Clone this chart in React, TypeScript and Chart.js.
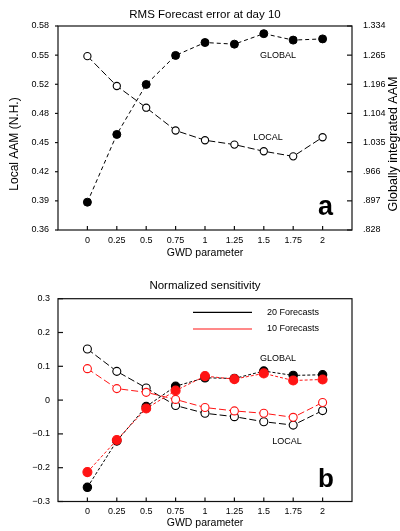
import React, { useEffect, useRef } from "react";
import { Chart, registerables } from "chart.js";

Chart.register(...registerables);

const FONT = "'Liberation Sans', Arial, Helvetica, sans-serif";

// ---- shared x axis ----
const gwd = [0, 0.25, 0.5, 0.75, 1, 1.25, 1.5, 1.75, 2];
const gwdTickLabels = ["0", "0.25", "0.5", "0.75", "1", "1.25", "1.5", "1.75", "2"];

// ---- panel a: RMS forecast error at day 10 ----
const localAAM = [0.5475, 0.5153, 0.4919, 0.4673, 0.4568, 0.4521, 0.4449, 0.4394, 0.46];
const globalAAM = [0.897, 1.065, 1.189, 1.261, 1.293, 1.289, 1.315, 1.299, 1.302];
const leftTickLabels = ["0.36", "0.39", "0.42", "0.45", "0.48", "0.52", "0.55", "0.58"];
const rightTickLabels = [".828", ".897", ".966", "1.035", "1.104", "1.196", "1.265", "1.334"];

// ---- panel b: normalized sensitivity ----
const local20 = [0.151, 0.085, 0.036, -0.016, -0.039, -0.049, -0.064, -0.074, -0.031];
const local10 = [0.093, 0.034, 0.023, 0.002, -0.022, -0.032, -0.039, -0.051, -0.007];
const global20 = [-0.258, -0.121, -0.019, 0.041, 0.066, 0.064, 0.086, 0.073, 0.075];
const global10 = [-0.213, -0.118, -0.025, 0.028, 0.071, 0.062, 0.079, 0.058, 0.061];
const sensTickValues = [-0.3, -0.2, -0.1, 0, 0.1, 0.2, 0.3];
const sensTickLabels = ["\u22120.3", "\u22120.2", "\u22120.1", "0", "0.1", "0.2", "0.3"];
const legendNames = ["20 Forecasts", "10 Forecasts"];

const RED = "rgb(255,20,20)";

const pts = (ys: number[]) => gwd.map((x, i) => ({ x, y: ys[i] }));

type TickSpec = { scaleId: string; side: "left" | "right" | "bottom"; len: number; inward: boolean };
type Label = { text: string; x: number; y: number; yScale: string; size: number };
type Decor = {
  ticks: TickSpec[];
  labels: Label[];
  panel: { text: string; dxRight: number; dyBottom: number; size: number };
  yTitles?: { text: string; x: number; y: number; size: number }[];
  legend?: { color: string; text: string; dy: number }[];
};

function decorPlugin(d: Decor) {
  return {
    id: "decor",
    afterDraw(chart: any) {
      const { ctx, chartArea: a, scales } = chart;
      ctx.save();
      ctx.strokeStyle = "#111";
      ctx.lineWidth = 1.2;
      ctx.setLineDash([]);
      ctx.strokeRect(a.left, a.top, a.right - a.left, a.bottom - a.top);
      for (const t of d.ticks) {
        const s = scales[t.scaleId];
        for (const tk of s.ticks) {
          const p = s.getPixelForValue(tk.value);
          ctx.beginPath();
          if (t.side === "bottom") {
            ctx.moveTo(p, a.bottom);
            ctx.lineTo(p, a.bottom + (t.inward ? -t.len : t.len));
          } else if (t.side === "left") {
            ctx.moveTo(a.left, p);
            ctx.lineTo(a.left + (t.inward ? t.len : -t.len), p);
          } else {
            ctx.moveTo(a.right, p);
            ctx.lineTo(a.right + (t.inward ? -t.len : t.len), p);
          }
          ctx.stroke();
        }
      }
      ctx.fillStyle = "#000";
      ctx.textAlign = "center";
      ctx.textBaseline = "middle";
      for (const l of d.labels) {
        ctx.font = `${l.size}px ${FONT}`;
        ctx.fillText(l.text, scales.x.getPixelForValue(l.x), scales[l.yScale].getPixelForValue(l.y));
      }
      if (d.legend) {
        ctx.font = `9px ${FONT}`;
        ctx.textAlign = "left";
        for (const e of d.legend) {
          const y = a.top + e.dy;
          ctx.strokeStyle = e.color;
          ctx.lineWidth = 1.2;
          ctx.beginPath();
          ctx.moveTo(a.left + 135, y);
          ctx.lineTo(a.left + 194, y);
          ctx.stroke();
          ctx.fillStyle = "#000";
          ctx.fillText(e.text, a.left + 209, y);
        }
      }
      if (d.yTitles) {
        for (const t of d.yTitles) {
          ctx.save();
          ctx.translate(t.x, t.y);
          ctx.rotate(-Math.PI / 2);
          ctx.font = `${t.size}px ${FONT}`;
          ctx.textAlign = "center";
          ctx.textBaseline = "middle";
          ctx.fillStyle = "#000";
          ctx.fillText(t.text, 0, 0);
          ctx.restore();
        }
      }
      ctx.font = `bold ${d.panel.size}px ${FONT}`;
      ctx.textAlign = "right";
      ctx.textBaseline = "alphabetic";
      ctx.fillStyle = "#000";
      ctx.fillText(d.panel.text, a.right - d.panel.dxRight, a.bottom - d.panel.dyBottom);
      ctx.restore();
    },
  };
}

const xScale = (height: number, tickPad: number, titlePadBottom: number) => ({
  type: "linear",
  min: -0.25,
  max: 2.25,
  grid: { display: false, drawTicks: false },
  border: { display: false },
  afterBuildTicks: (s: any) => {
    s.ticks = gwd.map((v) => ({ value: v }));
  },
  afterFit: (s: any) => {
    s.height = height;
  },
  ticks: {
    autoSkip: false,
    maxRotation: 0,
    padding: tickPad,
    color: "#000",
    font: { family: FONT, size: 9 },
    callback: (_v: any, i: number) => gwdTickLabels[i],
  },
  title: {
    display: true,
    text: "GWD parameter",
    color: "#000",
    font: { family: FONT, size: 10.5 },
    padding: { top: 0, bottom: titlePadBottom },
  },
});

function useChart(ref: React.RefObject<HTMLCanvasElement | null>, make: (c: HTMLCanvasElement) => Chart) {
  useEffect(() => {
    if (!ref.current) return;
    const chart = make(ref.current);
    return () => chart.destroy();
  }, []);
}

function PanelA() {
  const ref = useRef<HTMLCanvasElement>(null);
  useChart(ref, (c) =>
    new Chart(c, {
      type: "line",
      data: {
        datasets: [
          {
            label: "LOCAL",
            data: pts(localAAM),
            yAxisID: "y",
            borderColor: "#000",
            borderWidth: 1,
            borderDash: [7, 3],
            pointRadius: 3.6,
            pointBorderWidth: 1.1,
            pointBackgroundColor: "#fff",
            pointBorderColor: "#000",
          },
          {
            label: "GLOBAL",
            data: pts(globalAAM),
            yAxisID: "y2",
            borderColor: "#000",
            borderWidth: 1,
            borderDash: [4, 3],
            pointRadius: 4,
            pointBorderWidth: 1,
            pointBackgroundColor: "#000",
            pointBorderColor: "#000",
          },
        ],
      },
      options: {
        responsive: false,
        animation: false,
        layout: { padding: 0 },
        plugins: {
          legend: { display: false },
          tooltip: { enabled: false },
          title: {
            display: true,
            fullSize: false,
            text: "RMS Forecast error at day 10",
            color: "#000",
            font: { family: FONT, size: 11.5, weight: "normal" },
            padding: { top: 8.1, bottom: 4.1 },
          },
        },
        scales: {
          x: xScale(40, 5, 11),
          y: {
            type: "linear",
            position: "left",
            min: 0.36,
            max: 0.58,
            grid: { display: false, drawTicks: false },
            border: { display: false },
            afterBuildTicks: (s: any) => {
              s.ticks = leftTickLabels.map((_, i) => ({ value: 0.36 + (i * 0.22) / (leftTickLabels.length - 1) }));
            },
            afterFit: (s: any) => {
              s.width = 58;
            },
            ticks: {
              padding: 9,
              color: "#000",
              font: { family: FONT, size: 9 },
              callback: (_v: any, i: number) => leftTickLabels[i],
            },
          },
          y2: {
            type: "linear",
            position: "right",
            min: 0.828,
            max: 1.334,
            grid: { display: false, drawTicks: false },
            border: { display: false },
            afterBuildTicks: (s: any) => {
              s.ticks = rightTickLabels.map((_, i) => ({
                value: 0.828 + (i * (1.334 - 0.828)) / (rightTickLabels.length - 1),
              }));
            },
            afterFit: (s: any) => {
              s.width = 48;
            },
            ticks: {
              padding: 11,
              color: "#000",
              font: { family: FONT, size: 9 },
              callback: (_v: any, i: number) => rightTickLabels[i],
            },
          },
        },
      } as any,
      plugins: [
        decorPlugin({
          ticks: [
            { scaleId: "x", side: "bottom", len: 4, inward: true },
            { scaleId: "y", side: "left", len: 3, inward: false },
            { scaleId: "y2", side: "right", len: 5, inward: true },
          ],
          labels: [
            { text: "GLOBAL", x: 1.621, y: 0.5486, yScale: "y", size: 9 },
            { text: "LOCAL", x: 1.536, y: 0.4597, yScale: "y", size: 9 },
          ],
          panel: { text: "a", dxRight: 19, dyBottom: 15, size: 27 },
          yTitles: [
            { text: "Local AAM (N.H.)", x: 15, y: 144, size: 12 },
            { text: "Globally integrated AAM", x: 394, y: 144, size: 12.5 },
          ],
        }) as any,
      ],
    })
  );
  return <canvas ref={ref} width={400} height={270} style={{ display: "block" }} />;
}

function PanelB() {
  const ref = useRef<HTMLCanvasElement>(null);
  const ds = (data: number[], color: string, open: boolean, dash: number[], r: number) => ({
    data: pts(data),
    borderColor: color,
    borderWidth: 1,
    borderDash: dash,
    pointRadius: r,
    pointBorderWidth: 1.1,
    pointBackgroundColor: open ? "#fff" : color,
    pointBorderColor: color,
  });
  useChart(ref, (c) =>
    new Chart(c, {
      type: "line",
      data: {
        datasets: [
          { label: "LOCAL 10", ...ds(local10, RED, true, [7, 3], 4) },
          { label: "GLOBAL 10", ...ds(global10, RED, false, [3, 2], 4.5) },
          { label: "LOCAL 20", ...ds(local20, "#000", true, [7, 3], 4) },
          { label: "GLOBAL 20", ...ds(global20, "#000", false, [3, 2], 4.2) },
        ],
      },
      options: {
        responsive: false,
        animation: false,
        layout: { padding: { left: 0, right: 48, top: 0, bottom: 0 } },
        plugins: {
          legend: { display: false },
          tooltip: { enabled: false },
          title: {
            display: true,
            fullSize: false,
            text: "Normalized sensitivity",
            color: "#000",
            font: { family: FONT, size: 11.5, weight: "normal" },
            padding: { top: 9.1, bottom: 5.8 },
          },
        },
        scales: {
          x: xScale(29.5, 4.5, 1.5),
          y: {
            type: "linear",
            position: "left",
            min: -0.3,
            max: 0.3,
            grid: { display: false, drawTicks: false },
            border: { display: false },
            afterBuildTicks: (s: any) => {
              s.ticks = sensTickValues.map((v) => ({ value: v }));
            },
            afterFit: (s: any) => {
              s.width = 58;
            },
            ticks: {
              padding: 8,
              color: "#000",
              font: { family: FONT, size: 9 },
              callback: (_v: any, i: number) => sensTickLabels[i],
            },
          },
        },
      } as any,
      plugins: [
        decorPlugin({
          ticks: [
            { scaleId: "x", side: "bottom", len: 4, inward: true },
            { scaleId: "y", side: "left", len: 5, inward: true },
          ],
          labels: [
            { text: "GLOBAL", x: 1.621, y: 0.122, yScale: "y", size: 9 },
            { text: "LOCAL", x: 1.697, y: -0.124, yScale: "y", size: 9 },
          ],
          panel: { text: "b", dxRight: 18, dyBottom: 14.5, size: 26 },
          legend: [
            { color: "#000", text: legendNames[0], dy: 13.6 },
            { color: RED, text: legendNames[1], dy: 30.3 },
          ],
        }) as any,
      ],
    })
  );
  return <canvas ref={ref} width={400} height={261} style={{ display: "block" }} />;
}

export default function App() {
  return (
    <div style={{ position: "fixed", left: 0, top: 0, width: 400, height: 531, background: "#fff" }}>
      <PanelA />
      <PanelB />
    </div>
  );
}
